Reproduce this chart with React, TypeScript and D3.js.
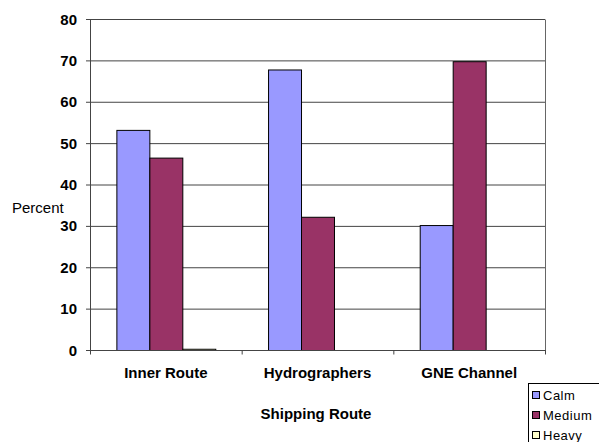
import React from "react";
import * as d3 from "d3";

const categories = ["Inner Route", "Hydrographers", "GNE Channel"];
const seriesNames = ["Calm", "Medium", "Heavy"];
const calm = [53.2, 67.8, 30.2];
const medium = [46.5, 32.2, 69.8];
const heavy = [0.3, 0, 0];
const seriesColors = ["#9999FF", "#993366", "#FFFFCC"];
const yTicks = [0, 10, 20, 30, 40, 50, 60, 70, 80];

const W = 599;
const H = 442;
const plot = { left: 90, right: 545, top: 19.5, bottom: 350.5 };
const font = "'Liberation Sans', Arial, sans-serif";

export default function App() {
  const values = [calm, medium, heavy];
  const x0 = d3
    .scaleBand<string>()
    .domain(categories)
    .range([plot.left, plot.right])
    .padding(0);
  const x1 = d3
    .scaleBand<string>()
    .domain(seriesNames)
    .range([0, x0.bandwidth()])
    .paddingInner(0)
    .paddingOuter(0.8);
  const y = d3.scaleLinear().domain([0, 80]).range([plot.bottom, plot.top]);

  const tickEdges = [...categories.map((c) => x0(c)!), plot.right];

  return (
    <svg
      width={W}
      height={H}
      style={{ position: "absolute", left: 0, top: 0, background: "#fff" }}
      fontFamily={font}
    >
      <rect x={0} y={0} width={W} height={H} fill="#fff" />
      {/* gridlines */}
      {yTicks.map((t) => (
        <line
          key={"g" + t}
          x1={plot.left}
          x2={plot.right}
          y1={y(t)}
          y2={y(t)}
          stroke="#444"
          strokeWidth={1}
        />
      ))}
      {/* plot frame right side */}
      <line
        x1={plot.right + 0.5}
        x2={plot.right + 0.5}
        y1={plot.top}
        y2={plot.bottom}
        stroke="#666"
      />
      {/* bars */}
      {categories.map((c, ci) =>
        seriesNames.map((s, si) => {
          const v = values[si][ci];
          if (v <= 0) return null;
          const bx = x0(c)! + x1(s)!;
          return (
            <rect
              key={c + s}
              x={bx + 0.5}
              y={y(v)}
              width={x1.bandwidth()}
              height={y(0) - y(v)}
              fill={seriesColors[si]}
              stroke="#000"
              strokeWidth={1}
            />
          );
        })
      )}
      {/* axes */}
      <line
        x1={plot.left + 0.5}
        x2={plot.left + 0.5}
        y1={plot.top}
        y2={plot.bottom}
        stroke="#444"
      />
      <line
        x1={plot.left}
        x2={plot.right + 1}
        y1={plot.bottom}
        y2={plot.bottom}
        stroke="#444"
      />
      {yTicks.map((t) => (
        <g key={"t" + t}>
          <line
            x1={plot.left - 4}
            x2={plot.left}
            y1={y(t)}
            y2={y(t)}
            stroke="#444"
          />
          <text
            x={77}
            y={y(t) + 5}
            textAnchor="end"
            fontSize={15}
            fontWeight="bold"
            fill="#000"
          >
            {t}
          </text>
        </g>
      ))}
      {tickEdges.map((tx, i) => (
        <line
          key={"xt" + i}
          x1={tx + 0.5}
          x2={tx + 0.5}
          y1={plot.bottom}
          y2={plot.bottom + 4}
          stroke="#444"
        />
      ))}
      {categories.map((c) => (
        <text
          key={"c" + c}
          x={x0(c)! + x0.bandwidth() / 2}
          y={378}
          textAnchor="middle"
          fontSize={15}
          fontWeight="bold"
          fill="#000"
        >
          {c}
        </text>
      ))}
      <text x={316} y={419} textAnchor="middle" fontSize={15} fontWeight="bold">
        Shipping Route
      </text>
      <text x={12} y={213} fontSize={15} fill="#000">
        Percent
      </text>
      {/* legend */}
      <rect
        x={528.5}
        y={383.5}
        width={80}
        height={70}
        fill="#fff"
        stroke="#000"
      />
      {seriesNames.map((s, i) => (
        <g key={"l" + s}>
          <rect
            x={532.5}
            y={391.5 + i * 20}
            width={7}
            height={7}
            fill={seriesColors[i]}
            stroke="#000"
          />
          <text
            x={543}
            y={400 + i * 20}
            fontSize={13}
            letterSpacing={0.5}
            fill="#000"
          >
            {s}
          </text>
        </g>
      ))}
    </svg>
  );
}
